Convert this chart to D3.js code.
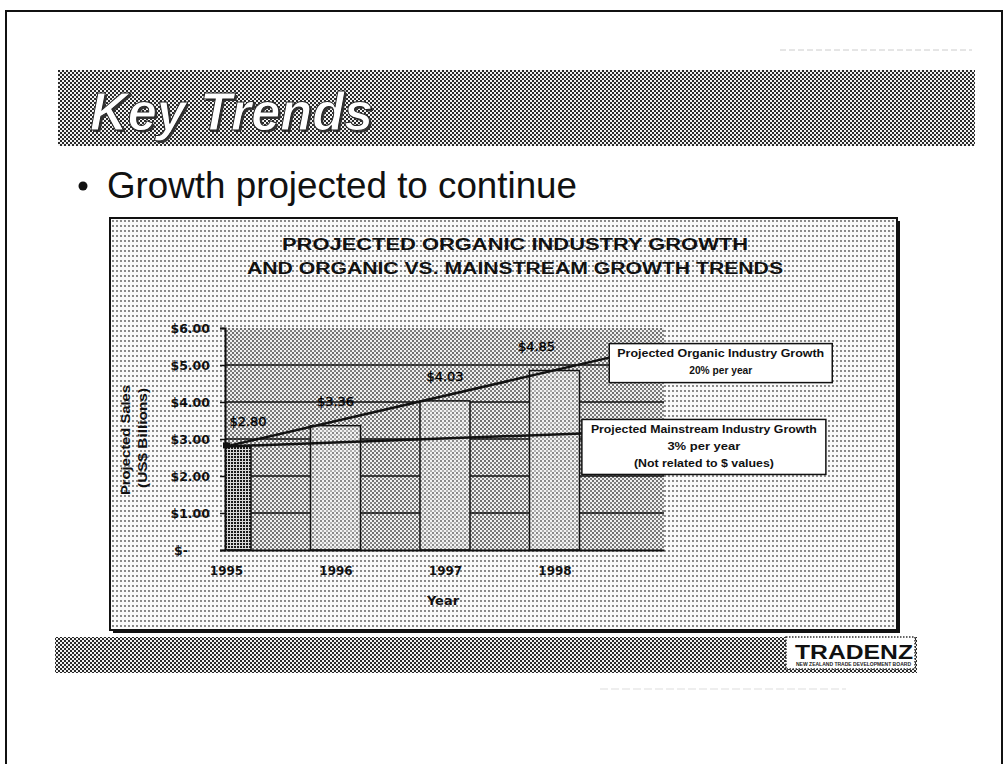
<!DOCTYPE html>
<html>
<head>
<meta charset="utf-8">
<script src="https://cdn.jsdelivr.net/npm/d3@7"></script>
<style>
  html, body { margin: 0; padding: 0; background: #fff; }
  svg { display: block; }
</style>
</head>
<body>
<script>
// chart data
const years = [1995, 1996, 1997, 1998];
const sales = [2.80, 3.36, 4.03, 4.85];
const salesLabels = ['$2.80', '$3.36', '$4.03', '$4.85'];
const yTicks = [0, 1, 2, 3, 4, 5, 6];
const yTickLabels = ['$-', '$1.00', '$2.00', '$3.00', '$4.00', '$5.00', '$6.00'];
const organicYears = [1995, 1998.5];
const organicTrend = [2.80, 5.20];
const mainstreamYears = [1995, 1998.25];
const mainstreamTrend = [2.80, 3.15];
const titleLines = ['PROJECTED ORGANIC INDUSTRY GROWTH', 'AND ORGANIC VS. MAINSTREAM GROWTH TRENDS'];
const organicNote = ['Projected Organic Industry Growth', '20% per year'];
const mainstreamNote = ['Projected Mainstream Industry Growth', '3% per year', '(Not related to $ values)'];

const W = 1006, H = 764;
const ARIAL = "'Liberation Sans', Arial, sans-serif";
const DEJAVU = "'DejaVu Sans', sans-serif";

const svg = d3.select('body')
  .append('svg')
  .attr('width', W)
  .attr('height', H);

const defs = svg.append('defs');

// halftone-ish patterns
function pattern(id, w, h, bg, draw) {
  const p = defs.append('pattern')
    .attr('id', id)
    .attr('patternUnits', 'userSpaceOnUse')
    .attr('width', w)
    .attr('height', h);
  p.append('rect').attr('width', w).attr('height', h).attr('fill', bg);
  draw(p);
}
pattern('chk', 4, 4, '#f2f2f2', p => {
  p.append('rect').attr('x', 0).attr('y', 0).attr('width', 2).attr('height', 2).attr('fill', '#2a2a2a');
  p.append('rect').attr('x', 2).attr('y', 2).attr('width', 2).attr('height', 2).attr('fill', '#2a2a2a');
});
pattern('plotbg', 4, 4, '#f0f0f0', p => {
  p.append('rect').attr('x', 0).attr('y', 0).attr('width', 2).attr('height', 2).attr('fill', '#707070');
  p.append('rect').attr('x', 2).attr('y', 2).attr('width', 2).attr('height', 2).attr('fill', '#808080');
});
pattern('chartbg', 4, 5, '#fafafa', p => {
  p.append('circle').attr('cx', 1).attr('cy', 1).attr('r', 0.9).attr('fill', '#555');
});
pattern('barfill', 4, 4, '#f2f2f2', p => {
  p.append('rect').attr('x', 0).attr('y', 0).attr('width', 2).attr('height', 2).attr('fill', '#8a8a8a');
  p.append('rect').attr('x', 2).attr('y', 2).attr('width', 2).attr('height', 2).attr('fill', '#b0b0b0');
});
pattern('bardark', 3, 3, '#d8d8d8', p => {
  p.append('rect').attr('x', 0).attr('y', 0).attr('width', 2).attr('height', 2).attr('fill', '#1a1a1a');
});

// slide frame + scan noise
svg.append('rect')
  .attr('x', 6).attr('y', 11).attr('width', 996).attr('height', 770)
  .attr('fill', 'none').attr('stroke', '#111').attr('stroke-width', 2);
svg.append('line').attr('x1', 780).attr('x2', 972).attr('y1', 50).attr('y2', 50)
  .attr('stroke', '#ccc').attr('stroke-width', 1).attr('stroke-dasharray', '6,3');
svg.append('line').attr('x1', 600).attr('x2', 846).attr('y1', 689).attr('y2', 689)
  .attr('stroke', '#ddd').attr('stroke-width', 1).attr('stroke-dasharray', '8,3');

// title banner
svg.append('rect')
  .attr('x', 58).attr('y', 70).attr('width', 917).attr('height', 76)
  .attr('fill', 'url(#chk)');
svg.append('text')
  .attr('x', 92).attr('y', 132)
  .attr('font-family', ARIAL).attr('font-size', 53).attr('font-weight', 'bold').attr('font-style', 'italic')
  .attr('textLength', 283).attr('lengthAdjust', 'spacingAndGlyphs')
  .attr('fill', '#333')
  .text('Key Trends');
svg.append('text')
  .attr('x', 90).attr('y', 130)
  .attr('font-family', ARIAL).attr('font-size', 53).attr('font-weight', 'bold').attr('font-style', 'italic')
  .attr('textLength', 283).attr('lengthAdjust', 'spacingAndGlyphs')
  .attr('fill', '#fff').attr('stroke', '#222').attr('stroke-width', 1)
  .text('Key Trends');

// bullet
svg.append('circle').attr('cx', 83).attr('cy', 186).attr('r', 4.5).attr('fill', '#111');
svg.append('text')
  .attr('x', 107).attr('y', 198)
  .attr('font-family', ARIAL).attr('font-size', 37)
  .attr('textLength', 470).attr('lengthAdjust', 'spacingAndGlyphs')
  .attr('fill', '#111')
  .text('Growth projected to continue');

// chart box
const box = { x: 110, y: 218, w: 787, h: 412 };
svg.append('rect')
  .attr('x', box.x + 3).attr('y', box.y + 3).attr('width', box.w).attr('height', box.h)
  .attr('fill', '#111');
svg.append('rect')
  .attr('x', box.x).attr('y', box.y).attr('width', box.w).attr('height', box.h)
  .attr('fill', 'url(#chartbg)').attr('stroke', '#111').attr('stroke-width', 2);

const chartTitle = svg.append('g')
  .attr('font-family', ARIAL).attr('font-weight', 'bold').attr('font-size', 16)
  .attr('text-anchor', 'middle').attr('fill', '#111');
chartTitle.append('text').attr('x', 515).attr('y', 250)
  .attr('textLength', 466).attr('lengthAdjust', 'spacingAndGlyphs').text(titleLines[0]);
chartTitle.append('text').attr('x', 515).attr('y', 274)
  .attr('textLength', 536).attr('lengthAdjust', 'spacingAndGlyphs').text(titleLines[1]);

// scales
const x = d3.scaleLinear().domain([1995, 1999]).range([226, 664]);
const y = d3.scaleLinear().domain([0, 6]).range([550, 328]);
const barW = 50;

defs.append('clipPath').attr('id', 'plotclip')
  .append('rect')
  .attr('x', x(1995)).attr('y', y(6))
  .attr('width', x(1999) - x(1995)).attr('height', y(0) - y(6));

// plot background + gridlines
svg.append('rect')
  .attr('x', x(1995)).attr('y', y(6))
  .attr('width', x(1999) - x(1995)).attr('height', y(0) - y(6))
  .attr('fill', 'url(#plotbg)');
svg.append('g')
  .selectAll('line')
  .data(yTicks.slice(1, -1))
  .enter()
  .append('line')
  .attr('x1', x(1995)).attr('x2', x(1999))
  .attr('y1', d => y(d)).attr('y2', d => y(d))
  .attr('stroke', '#111').attr('stroke-width', 1.3);

// bars
svg.append('g')
  .attr('clip-path', 'url(#plotclip)')
  .selectAll('rect')
  .data(years)
  .enter()
  .append('rect')
  .attr('x', d => x(d) - barW / 2)
  .attr('y', (d, i) => y(sales[i]))
  .attr('width', barW)
  .attr('height', (d, i) => y(0) - y(sales[i]))
  .attr('fill', (d, i) => i === 0 ? 'url(#bardark)' : 'url(#barfill)')
  .attr('stroke', '#111')
  .attr('stroke-width', 1.5);

// value labels
const labelShift = [22, 0, 0, -18];
svg.append('g')
  .selectAll('text')
  .data(years)
  .enter()
  .append('text')
  .attr('x', (d, i) => x(d) + labelShift[i])
  .attr('y', (d, i) => y(sales[i]) - 20)
  .attr('text-anchor', 'middle')
  .attr('font-family', DEJAVU).attr('font-size', 13)
  .attr('fill', '#000').attr('stroke', '#000').attr('stroke-width', 0.4)
  .text((d, i) => salesLabels[i]);

// axes
const yAxis = svg.append('g')
  .attr('transform', `translate(${x(1995) - 1},0)`)
  .call(d3.axisLeft(y).tickValues(yTicks).tickSize(5).tickPadding(10)
    .tickFormat((d, i) => yTickLabels[i]));
yAxis.select('.domain').attr('stroke', '#111').attr('stroke-width', 2);
yAxis.selectAll('line').attr('stroke', '#111').attr('stroke-width', 1.5);
yAxis.selectAll('text')
  .attr('font-family', DEJAVU).attr('font-weight', 'bold').attr('font-size', 12.5)
  .attr('fill', '#111')
  .attr('dx', d => d === 0 ? -22 : 0);

const xAxis = svg.append('g')
  .attr('transform', `translate(0,${y(0)})`)
  .call(d3.axisBottom(x).tickValues(years).tickSize(0).tickPadding(16).tickFormat(d3.format('d')));
xAxis.select('.domain').attr('stroke', '#111').attr('stroke-width', 2);
xAxis.selectAll('text')
  .attr('font-family', DEJAVU).attr('font-weight', 'bold').attr('font-size', 12)
  .attr('fill', '#111');

svg.append('text')
  .attr('x', 443).attr('y', 605)
  .attr('text-anchor', 'middle')
  .attr('font-family', DEJAVU).attr('font-weight', 'bold').attr('font-size', 13)
  .attr('fill', '#111')
  .text('Year');

const yTitle = svg.append('g')
  .attr('font-family', ARIAL).attr('font-weight', 'bold').attr('font-size', 13)
  .attr('text-anchor', 'middle').attr('fill', '#111');
yTitle.append('text')
  .attr('transform', 'translate(130,440) rotate(-90)')
  .attr('textLength', 110).attr('lengthAdjust', 'spacingAndGlyphs')
  .text('Projected Sales');
yTitle.append('text')
  .attr('transform', 'translate(147,438) rotate(-90)')
  .attr('textLength', 100).attr('lengthAdjust', 'spacingAndGlyphs')
  .text('(US$ Billions)');

// trend lines
const line = d3.line().x(d => x(d[0])).y(d => y(d[1]));
const organicPts = organicYears.map((d, i) => [d, organicTrend[i]]);
const mainPts = mainstreamYears.map((d, i) => [d, mainstreamTrend[i]]);
svg.append('path')
  .attr('d', line(mainPts))
  .attr('fill', 'none').attr('stroke', '#111').attr('stroke-width', 2.5);
svg.append('path')
  .attr('d', line(organicPts))
  .attr('fill', 'none').attr('stroke', '#111').attr('stroke-width', 2.5);
svg.append('rect')
  .attr('x', x(1995) - 3).attr('y', y(sales[0]) - 4)
  .attr('width', 7).attr('height', 6)
  .attr('fill', '#111');

// callout boxes
function callout(left, top, w, h, lines, widths, baselines) {
  const g = svg.append('g');
  g.append('rect')
    .attr('x', left).attr('y', top).attr('width', w).attr('height', h)
    .attr('fill', '#fff').attr('stroke', '#111').attr('stroke-width', 1.5);
  g.selectAll('text')
    .data(lines)
    .enter()
    .append('text')
    .attr('x', left + w / 2)
    .attr('y', (d, i) => top + baselines[i])
    .attr('text-anchor', 'middle')
    .attr('font-family', ARIAL).attr('font-size', 11).attr('font-weight', 'bold')
    .attr('textLength', (d, i) => widths[i]).attr('lengthAdjust', 'spacingAndGlyphs')
    .attr('fill', '#111')
    .text(d => d);
}
const oEnd = organicPts[organicPts.length - 1];
const mEnd = mainPts[mainPts.length - 1];
callout(x(oEnd[0]), y(oEnd[1]) - 14, 223, 39, organicNote, [207, 63], [13, 30]);
callout(x(mEnd[0]), y(mEnd[1]) - 14, 244, 55, mainstreamNote, [226, 73, 140], [14, 31, 48]);

// footer banner + logo
svg.append('rect')
  .attr('x', 55).attr('y', 637).attr('width', 862).attr('height', 36)
  .attr('fill', 'url(#chk)');
svg.append('rect')
  .attr('x', 786).attr('y', 637).attr('width', 129).attr('height', 32)
  .attr('fill', '#fff').attr('stroke', '#333').attr('stroke-width', 1.5).attr('stroke-dasharray', '1.5,1.5');
svg.append('text')
  .attr('x', 795).attr('y', 659)
  .attr('font-family', ARIAL).attr('font-weight', 'bold').attr('font-size', 21)
  .attr('textLength', 118).attr('lengthAdjust', 'spacingAndGlyphs')
  .attr('fill', '#111')
  .text('TRADENZ');
svg.append('text')
  .attr('x', 796).attr('y', 666)
  .attr('font-family', ARIAL).attr('font-weight', 'bold').attr('font-size', 4.5)
  .attr('textLength', 115).attr('lengthAdjust', 'spacingAndGlyphs')
  .attr('fill', '#222')
  .text('NEW ZEALAND TRADE DEVELOPMENT BOARD');
</script>
</body>
</html>
